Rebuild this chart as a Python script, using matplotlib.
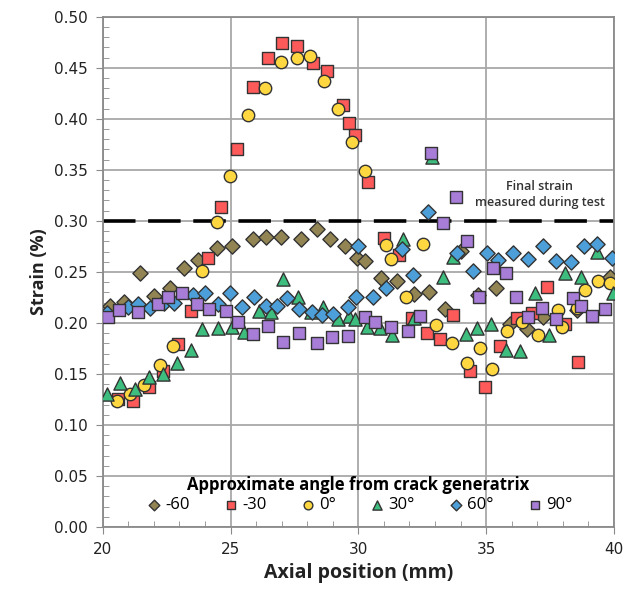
"""Strain along the axial position for several angles from the crack generatrix"""
import matplotlib
matplotlib.use("Agg")
import matplotlib.pyplot as plt
from matplotlib.ticker import MultipleLocator

# -60 (olive diamonds)
x_m60 = [20.27, 20.82, 21.45, 22.0, 22.62, 23.17, 23.72, 24.46, 25.05, 25.87, 26.38,
         26.97, 27.75, 28.38, 28.88, 29.47, 29.94, 30.25, 30.88, 31.5, 32.17, 32.76,
         33.39, 34.01, 34.68, 35.38, 35.93, 36.6, 37.22, 38.55, 39.84]
y_m60 = [0.217, 0.221, 0.249, 0.226, 0.234, 0.254, 0.262, 0.273, 0.275, 0.282, 0.284,
         0.284, 0.282, 0.292, 0.282, 0.275, 0.264, 0.261, 0.244, 0.241, 0.228, 0.230,
         0.214, 0.271, 0.227, 0.234, 0.199, 0.194, 0.206, 0.213, 0.245]

# -30 (red squares)
x_m30 = [20.59, 21.17, 21.8, 22.35, 22.94, 23.44, 24.1, 24.62, 25.24, 25.87, 26.46,
         27.0, 27.59, 28.22, 28.77, 29.39, 29.63, 29.86, 30.37, 31.0, 31.58, 32.09,
         32.68, 33.19, 33.7, 34.36, 34.95, 35.54, 36.2, 36.79, 37.38, 38.08, 38.59]
y_m30 = [0.126, 0.124, 0.137, 0.153, 0.179, 0.212, 0.264, 0.314, 0.370, 0.431, 0.460,
         0.474, 0.471, 0.455, 0.447, 0.414, 0.396, 0.384, 0.338, 0.283, 0.267, 0.205,
         0.190, 0.184, 0.208, 0.153, 0.137, 0.177, 0.205, 0.210, 0.235, 0.199, 0.162]

# 0 deg (yellow circles)
x_0 = [20.55, 21.06, 21.6, 22.23, 22.74, 23.87, 24.46, 24.97, 25.67, 26.34, 26.97,
       27.59, 28.1, 28.65, 29.2, 29.75, 30.25, 31.08, 31.27, 31.86, 32.52, 33.03,
       33.66, 34.25, 34.76, 35.23, 35.81, 36.4, 37.03, 37.81, 37.96, 38.55, 38.86,
       39.37, 39.84]
y_0 = [0.124, 0.130, 0.139, 0.159, 0.177, 0.251, 0.299, 0.344, 0.404, 0.430, 0.456,
       0.460, 0.462, 0.437, 0.410, 0.377, 0.349, 0.276, 0.263, 0.225, 0.277, 0.198,
       0.180, 0.161, 0.175, 0.155, 0.192, 0.201, 0.188, 0.213, 0.196, 0.215, 0.232,
       0.241, 0.239]

# 30 deg (green triangles)
x_30 = [20.16, 20.67, 21.25, 21.8, 22.35, 22.9, 23.44, 23.87, 24.5, 25.05, 25.52,
        26.1, 26.6, 27.05, 27.63, 28.14, 28.61, 29.2, 29.63, 29.86, 30.33, 30.84,
        31.31, 31.74, 32.17, 32.88, 33.31, 33.7, 34.2, 34.64, 35.19, 35.77, 36.32,
        36.9, 37.45, 38.08, 38.7, 39.33, 39.96]
y_30 = [0.130, 0.141, 0.135, 0.147, 0.150, 0.161, 0.174, 0.194, 0.195, 0.196, 0.191,
        0.212, 0.211, 0.243, 0.225, 0.211, 0.216, 0.204, 0.207, 0.204, 0.196, 0.195,
        0.188, 0.282, 0.205, 0.363, 0.245, 0.265, 0.189, 0.195, 0.199, 0.174, 0.173,
        0.229, 0.188, 0.249, 0.245, 0.270, 0.229]

# 60 deg (blue diamonds)
x_60 = [20.16, 20.98, 21.37, 21.84, 22.39, 22.78, 23.52, 23.99, 24.5, 24.97, 25.44,
        25.91, 26.38, 26.81, 27.2, 27.67, 28.18, 28.57, 29.0, 29.59, 29.9, 30.0,
        30.57, 31.1, 31.7, 32.13, 32.72, 33.86, 34.48, 35.03, 35.46, 36.05, 36.63,
        37.22, 37.73, 38.32, 38.83, 39.33, 39.92]
y_60 = [0.210, 0.216, 0.219, 0.215, 0.220, 0.220, 0.227, 0.229, 0.219, 0.229, 0.216,
        0.225, 0.217, 0.217, 0.224, 0.214, 0.211, 0.208, 0.209, 0.216, 0.225, 0.275,
        0.225, 0.234, 0.272, 0.247, 0.309, 0.269, 0.251, 0.269, 0.262, 0.269, 0.263,
        0.275, 0.261, 0.260, 0.275, 0.277, 0.264]

# 90 deg (purple squares)
x_90 = [20.2, 20.63, 21.37, 22.15, 22.54, 23.09, 23.68, 24.15, 24.81, 25.28, 25.87,
        26.46, 27.05, 27.67, 28.38, 28.96, 29.59, 30.25, 30.65, 31.27, 31.94, 32.41,
        32.84, 33.31, 33.82, 34.25, 34.72, 35.27, 35.77, 36.16, 36.63, 37.18, 37.73,
        38.4, 38.7, 39.14, 39.65]
y_90 = [0.206, 0.213, 0.211, 0.219, 0.225, 0.229, 0.219, 0.214, 0.212, 0.201, 0.189,
        0.197, 0.181, 0.190, 0.180, 0.186, 0.187, 0.206, 0.201, 0.196, 0.192, 0.207,
        0.367, 0.298, 0.323, 0.280, 0.225, 0.254, 0.249, 0.225, 0.206, 0.215, 0.204,
        0.224, 0.217, 0.207, 0.214]

final_strain = 0.30

series = [
    ("-60", x_m60, y_m60, "D", "#938553", 60),
    ("-30", x_m30, y_m30, "s", "#FF5A5A", 80),
    ("0°", x_0, y_0, "o", "#FFD740", 80),
    ("30°", x_30, y_30, "^", "#3DBE7E", 90),
    ("60°", x_60, y_60, "D", "#4C9FD8", 60),
    ("90°", x_90, y_90, "s", "#A77DD8", 80),
]

fig = plt.figure(figsize=(6.27, 5.99), dpi=100)
ax = fig.add_axes([0.164, 0.12, 0.815, 0.852])

for name, xs, ys, mk, col, size in series:
    ax.scatter(xs, ys, marker=mk, s=size, c=col, edgecolors="#333333",
               linewidths=1.0, label=name, zorder=3)

ax.axhline(final_strain, color="black", lw=2.6, dashes=(9, 3.5), zorder=2)
ax.text(37.1, 0.326, "Final strain\nmeasured during test", ha="center", va="center",
        fontsize=9, color="#333333", fontweight="semibold", linespacing=1.3,
        family="Open Sans")

ax.set_xlim(20, 40)
ax.set_ylim(0, 0.5)
ax.xaxis.set_major_locator(MultipleLocator(5))
ax.xaxis.set_minor_locator(MultipleLocator(1))
ax.yaxis.set_major_locator(MultipleLocator(0.05))
ax.yaxis.set_minor_locator(MultipleLocator(0.01))
ax.yaxis.set_major_formatter(matplotlib.ticker.FormatStrFormatter("%.2f"))
ax.grid(True, which="major", color="#a8a8a8", lw=1.3, zorder=0)
ax.set_axisbelow(True)
for sp in ax.spines.values():
    sp.set_color("#8a8a8a")
    sp.set_linewidth(1.3)
ax.tick_params(which="major", direction="out", length=5, color="#8a8a8a",
               labelsize=11, labelcolor="#222222", pad=6)
ax.tick_params(which="minor", direction="in", length=4, color="#8a8a8a")

ax.set_xlabel("Axial position (mm)", fontsize=14, fontweight="bold",
              family="Open Sans", color="#222222")
ax.set_ylabel("Strain (%)", fontsize=13, fontweight="bold",
              family="Open Sans", color="#222222")

leg = ax.legend(loc="lower center", bbox_to_anchor=(0.5, 0.005), ncol=6, frameon=False,
                title="Approximate angle from crack generatrix", handletextpad=0.05,
                handlelength=1.2, columnspacing=1.9, markerscale=0.7,
                borderaxespad=0.3, labelspacing=0.2,
                prop={"family": "Open Sans", "size": 12},
                title_fontproperties={"family": "Open Sans", "size": 12,
                                      "weight": "bold"})
leg.set_zorder(5)

fig.savefig("out.png", dpi=100)
